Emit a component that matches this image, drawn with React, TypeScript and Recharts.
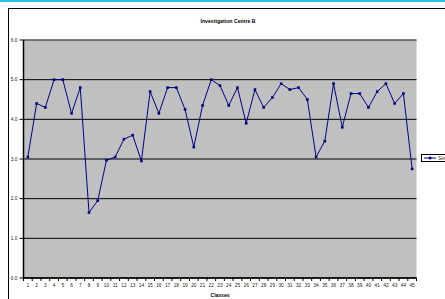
import React from "react";
import { LineChart, Line, XAxis, YAxis, CartesianGrid, ReferenceLine, Legend } from "recharts";

const classes = ["1","2","3","4","5","6","7","8","9","10","11","12","13","14","15","16","17","18","19","20","21","22","23","24","25","26","27","28","29","30","31","32","33","34","35","36","37","38","39","40","41","42","43","44","45"];
const series1 = [3.05,4.40,4.30,5.00,5.00,4.15,4.80,1.65,1.95,2.97,3.05,3.50,3.60,2.95,4.70,4.15,4.80,4.80,4.25,3.30,4.35,5.00,4.85,4.35,4.80,3.90,4.75,4.30,4.55,4.90,4.75,4.80,4.50,3.05,3.45,4.90,3.80,4.65,4.65,4.30,4.70,4.90,4.40,4.65,2.75];
const yTicks = [0,1,2,3,4,5,6];
const title = "Investigation Centre B";
const xTitle = "Classes";
const seriesName = "Series1";

const data = classes.map((c, i) => ({ cls: c, Series1: series1[i] }));

const W = 445;
const H = 299;
const M_TOP = 40;
const M_RIGHT = 28.5;
const Y_W = 23.5;
const X_H = 21;
const PLOT_W = W - M_RIGHT - Y_W;
const STEP = PLOT_W / classes.length;
const FONT = "Arial, 'Liberation Sans', sans-serif";

const XTick = (props: any) => {
  const { x, y, payload, index } = props;
  const last = index === classes.length - 1;
  return (
    <g>
      <line x1={x - STEP / 2} x2={x - STEP / 2} y1={y} y2={y + 3} stroke="#000" strokeWidth={1} />
      {last && <line x1={x + STEP / 2} x2={x + STEP / 2} y1={y} y2={y + 3} stroke="#000" strokeWidth={1} />}
      <text x={x} y={y + 8.5} textAnchor="middle" fontSize={4.8} fill="#222" fontFamily={FONT}>
        {payload.value}
      </text>
    </g>
  );
};

const Dot = (props: any) => {
  const { cx, cy } = props;
  if (cx == null || cy == null) return null;
  return <rect x={cx - 1.3} y={cy - 1.3} width={2.6} height={2.6} fill="#000080" />;
};

const LegendContent = () => (
  <div
    style={{
      border: "1px solid #000",
      background: "#fff",
      width: 40,
      height: 8,
      display: "flex",
      alignItems: "center",
      boxSizing: "border-box",
    }}
  >
    <svg width={14} height={6} style={{ marginLeft: 1 }}>
      <line x1={1} x2={13} y1={3} y2={3} stroke="#000080" strokeWidth={1} />
      <rect x={5.7} y={1.7} width={2.6} height={2.6} fill="#000080" />
    </svg>
    <span style={{ fontSize: 5, fontFamily: FONT, color: "#333", marginLeft: 1, lineHeight: "6px" }}>{seriesName}</span>
  </div>
);

export default function App() {
  return (
    <div style={{ position: "absolute", left: 0, top: 0, width: W, height: H, overflow: "hidden", background: "#fff" }}>
      <div style={{ position: "absolute", left: 0, top: 0, width: W, height: 2, background: "#22c3e6" }} />
      <div style={{ position: "absolute", left: 8, top: 8, width: W, height: H, border: "1px solid #000", boxSizing: "border-box" }} />
      <div
        style={{
          position: "absolute",
          left: 0,
          top: 18,
          width: 456,
          textAlign: "center",
          fontSize: 5.2,
          fontWeight: "bold",
          fontFamily: FONT,
          color: "#000",
        }}
      >
        {title}
      </div>
      <div style={{ position: "absolute", left: 0, top: 0 }}>
        <LineChart width={W} height={H} data={data} margin={{ top: M_TOP, right: M_RIGHT, bottom: 0, left: 0 }}>
          <CartesianGrid fill="#c0c0c0" stroke="#000" strokeWidth={1} vertical={false} />
          <ReferenceLine y={6} stroke="#808080" strokeWidth={1} />
          <XAxis
            dataKey="cls"
            scale="band"
            height={X_H}
            interval={0}
            tickSize={0}
            tickMargin={0}
            axisLine={{ stroke: "#000", strokeWidth: 1.5 }}
            tick={<XTick />}
            label={{ value: xTitle, position: "insideBottom", offset: 2, dx: 0, fontSize: 5, fontWeight: "bold", fill: "#000", fontFamily: FONT }}
          />
          <YAxis
            width={Y_W}
            domain={[0, 6]}
            ticks={yTicks}
            interval={0}
            tickSize={4}
            tickMargin={2}
            tickLine={{ stroke: "#000" }}
            axisLine={{ stroke: "#000", strokeWidth: 1.5 }}
            tickFormatter={(v: number) => v.toFixed(1)}
            tick={{ fontSize: 4.8, fill: "#222", fontFamily: FONT }}
          />
          <YAxis yAxisId="right" orientation="right" width={0} domain={[0, 6]} ticks={[]} tick={false} tickLine={false} axisLine={{ stroke: "#808080" }} />
          <Legend
            layout="horizontal"
            verticalAlign="middle"
            align="center"
            content={<LegendContent />}
            wrapperStyle={{ position: "absolute", left: 421, top: 154, width: 40 }}
          />
          <Line
            type="linear"
            dataKey="Series1"
            name={seriesName}
            stroke="#000080"
            strokeWidth={1}
            dot={<Dot />}
            activeDot={false}
            isAnimationActive={false}
          />
        </LineChart>
      </div>
    </div>
  );
}
